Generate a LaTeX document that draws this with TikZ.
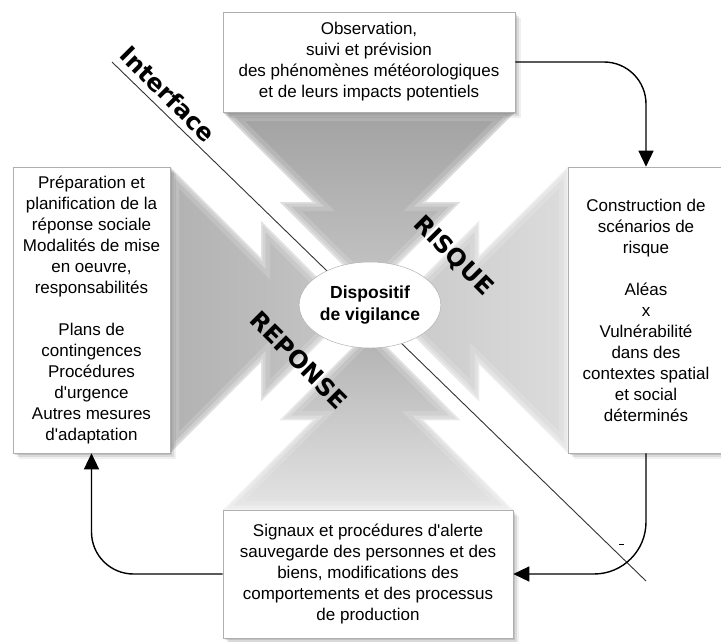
\documentclass[tikz,border=0pt]{standalone}
\usepackage{fontspec}
\setmainfont{Liberation Sans}
\newfontfamily\labfont{DejaVu Sans}
\usetikzlibrary{arrows.meta,shadows,shapes.geometric}
\definecolor{tA}{RGB}{162,162,162}
\definecolor{tB}{RGB}{148,148,148}
\definecolor{tC}{RGB}{198,198,198}
\definecolor{lA}{RGB}{178,178,178}
\definecolor{lB}{RGB}{162,162,162}
\definecolor{lC}{RGB}{198,198,198}
\definecolor{bA}{RGB}{176,176,176}
\definecolor{bC}{RGB}{228,228,228}
\definecolor{rA}{RGB}{200,200,200}
\definecolor{rC}{RGB}{220,220,220}
\definecolor{boxline}{RGB}{175,175,175}
\newcommand{\apos}{\textquotesingle}
\begin{document}
\begin{tikzpicture}[x=1pt,y=-1pt,
  box/.style={draw=boxline,line width=0.6pt,fill=white,align=center,inner sep=0pt,
    font=\fontsize{17}{21}\selectfont,
    drop shadow={shadow xshift=2pt,shadow yshift=-2pt,opacity=0.12,fill=black},
    drop shadow={shadow xshift=4pt,shadow yshift=-4pt,opacity=0.09,fill=black},
    drop shadow={shadow xshift=6pt,shadow yshift=-6pt,opacity=0.06,fill=black}},
  conn/.style={line width=1.4pt,-{Triangle[length=16pt,width=15pt]},rounded corners=42pt},
  lab/.style={font=\labfont\bfseries\fontsize{24}{24}\selectfont,inner sep=0pt},
  glow/.style={draw=white,line join=miter},
  diag/.style={draw=black!80,line width=0.9pt}
]
\useasboundingbox (0,0) rectangle (721,641);

% ---- background arrows ----
\def\toparrow{(223,112) -- (515,112) -- (425,202) -- (460,202) -- (370,292) -- (280,202) -- (313,202) -- cycle}
\def\botarrow{(223,510) -- (513,510) -- (423,420) -- (460,420) -- (370,330) -- (280,420) -- (313,420) -- cycle}
\def\leftarrow{(170,167) -- (170,453) -- (261,362) -- (261,401) -- (351,311) -- (261,221) -- (261,258) -- cycle}
\def\rightarrow{(568,167) -- (568,453) -- (479,364) -- (479,401) -- (389,311) -- (479,221) -- (479,256) -- cycle}

\begin{scope}
\clip \toparrow;
\shade[top color=tA,middle color=tB,bottom color=tC] \toparrow;
\draw[glow,line width=18pt,opacity=0.15] \toparrow;
\draw[glow,line width=9pt,opacity=0.25] \toparrow;
\draw[glow,line width=3pt,opacity=0.35] \toparrow;
\end{scope}
\begin{scope}
\clip \leftarrow;
\shade[left color=lA,middle color=lB,right color=lC] \leftarrow;
\draw[glow,line width=18pt,opacity=0.15] \leftarrow;
\draw[glow,line width=9pt,opacity=0.25] \leftarrow;
\draw[glow,line width=3pt,opacity=0.35] \leftarrow;
\end{scope}
\begin{scope}
\clip \botarrow;
\shade[top color=bA,bottom color=bC] \botarrow;
\draw[glow,line width=18pt,opacity=0.15] \botarrow;
\draw[glow,line width=9pt,opacity=0.25] \botarrow;
\draw[glow,line width=3pt,opacity=0.35] \botarrow;
\end{scope}
\begin{scope}
\clip \rightarrow;
\shade[left color=rA,right color=rC] \rightarrow;
\draw[glow,line width=18pt,opacity=0.15] \rightarrow;
\draw[glow,line width=9pt,opacity=0.25] \rightarrow;
\draw[glow,line width=3pt,opacity=0.35] \rightarrow;
\end{scope}

% ---- diagonal interface line ----
\coordinate (d1) at (112,62);
\coordinate (d2) at (646,581);
\draw[diag] (d1) -- (d2);
\coordinate (t1) at (619,544);
\coordinate (t2) at (624,544);
\draw[line width=0.8pt] (t1) -- (t2);

% ---- centre ----
\node[ellipse,draw=black!30,line width=0.5pt,fill=white,minimum width=126pt,minimum height=86pt,
  inner sep=0pt,align=center,font=\bfseries\fontsize{17.5}{22}\selectfont] (vig) at (370,305)
  {Dispositif\\de vigilance};

% ---- diagonal labels ----
\node[lab,rotate=-45] (iface) at (168,94) {Interface};
\node[lab,rotate=-45] (risque) at (453,256) {RISQUE};
\node[lab,rotate=-45] (reponse) at (299,360) {REPONSE};

% ---- boxes ----
\node[box,minimum width=292pt,minimum height=100pt] (top) at (369,62)
  {Observation,\\suivi et prévision\\des phénomènes météorologiques\\et de leurs impacts potentiels};
\node[box,minimum width=157pt,minimum height=286pt] (left) at (91.5,310)
  {Préparation et\\planification de la\\réponse sociale\\Modalités de mise\\en oeuvre,\\responsabilités\\[21pt]
   Plans de\\contingences\\Procédures\\d\apos urgence\\Autres mesures\\d\apos adaptation};
\node[box,minimum width=156pt,minimum height=286pt] (right) at (646,310)
  {Construction de\\scénarios de\\risque\\[21pt]Aléas\\x\\Vulnérabilité\\dans des\\contextes spatial\\et social\\déterminés};
\node[box,minimum width=290pt,minimum height=128pt] (bot) at (368,574)
  {Signaux et procédures d\apos alerte\\sauvegarde des personnes et des\\biens, modifications des\\comportements et des processus\\de production};

% ---- connectors ----
\draw[conn] (top.east) -| (right.north);
\draw[conn,rounded corners=52pt] (right.south) |- (bot.east);
\draw[conn] (bot.west) -| (left.south);
\end{tikzpicture}
\end{document}
